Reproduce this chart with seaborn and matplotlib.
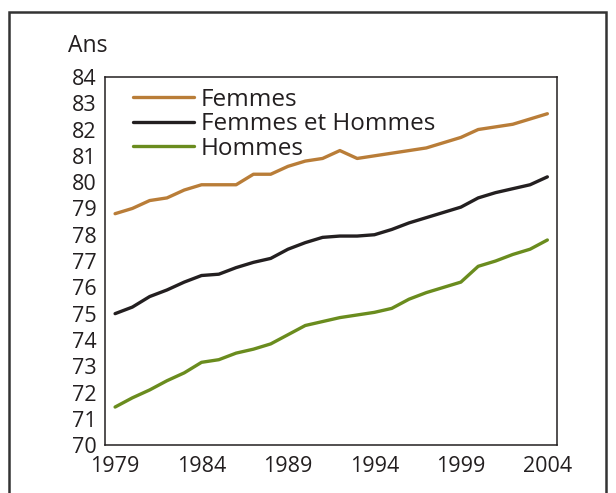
import pandas as pd
import seaborn as sns
import matplotlib.pyplot as plt
from matplotlib.patches import Rectangle

# Espérance de vie à la naissance
annees = list(range(1979, 2005))
femmes = [78.8, 79.0, 79.3, 79.4, 79.7, 79.9, 79.9, 79.9, 80.3, 80.3,
          80.6, 80.8, 80.9, 81.2, 80.9, 81.0, 81.1, 81.2, 81.3, 81.5,
          81.7, 82.0, 82.1, 82.2, 82.4, 82.6]
ensemble = [75.0, 75.25, 75.65, 75.9, 76.2, 76.45, 76.5, 76.75, 76.95, 77.1,
            77.45, 77.7, 77.9, 77.95, 77.95, 78.0, 78.2, 78.45, 78.65, 78.85,
            79.05, 79.4, 79.6, 79.75, 79.9, 80.2]
hommes = [71.45, 71.8, 72.1, 72.45, 72.75, 73.15, 73.25, 73.5, 73.65, 73.85,
          74.2, 74.55, 74.7, 74.85, 74.95, 75.05, 75.2, 75.55, 75.8, 76.0,
          76.2, 76.8, 77.0, 77.25, 77.45, 77.8]
series = ["Femmes", "Femmes et Hommes", "Hommes"]
couleurs = ["#b97d38", "#231f20", "#6a8c1e"]
annees_lab = [1979, 1984, 1989, 1994, 1999, 2004]

df = pd.DataFrame({
    "annee": annees * 3,
    "valeur": femmes + ensemble + hommes,
    "serie": [s for s in series for _ in annees],
})

sns.set_style("white")
plt.rcParams["font.family"] = ["Open Sans", "DejaVu Sans"]
plt.rcParams["text.color"] = "#231f20"

fig = plt.figure(figsize=(6.16, 4.93), dpi=100)
ax = fig.add_axes([0.170, 0.097, 0.734, 0.747])

sns.lineplot(data=df, x="annee", y="valeur", hue="serie", hue_order=series,
             palette=couleurs, linewidth=2.4, ax=ax, legend=False)

ax.set_xlim(1978.4, 2004.55)
ax.set_ylim(70, 84)
ax.set_yticks(range(70, 85))
ax.set_xticks(annees_lab)
ax.set_xticks(annees, minor=True)
ax.tick_params(axis="both", which="both", direction="in", length=6,
               width=1.1, color="#231f20", labelsize=15.5, labelcolor="#231f20")
ax.tick_params(axis="y", pad=6)
ax.tick_params(axis="x", pad=8)
for s in ax.spines.values():
    s.set_visible(True)
    s.set_color("#231f20")
    s.set_linewidth(1.1)
ax.set_xlabel("")
ax.set_ylabel("")

# légende
handles = [plt.Line2D([], [], color=c, lw=2.4) for c in couleurs]
ax.legend(handles, series, loc="upper left", bbox_to_anchor=(0.03, 1.01),
          frameon=False, fontsize=17.5, handlelength=2.5, handletextpad=0.3,
          labelspacing=0.02, borderaxespad=0.2)

fig.text(0.110, 0.906, "Ans", fontsize=16.5, ha="left", va="center")

# cadre extérieur
fig.patches.append(Rectangle((0.015, -0.05), 0.968, 1.025, transform=fig.transFigure,
                             fill=False, edgecolor="#333333", linewidth=1.8))

fig.savefig("out.png", dpi=100)
